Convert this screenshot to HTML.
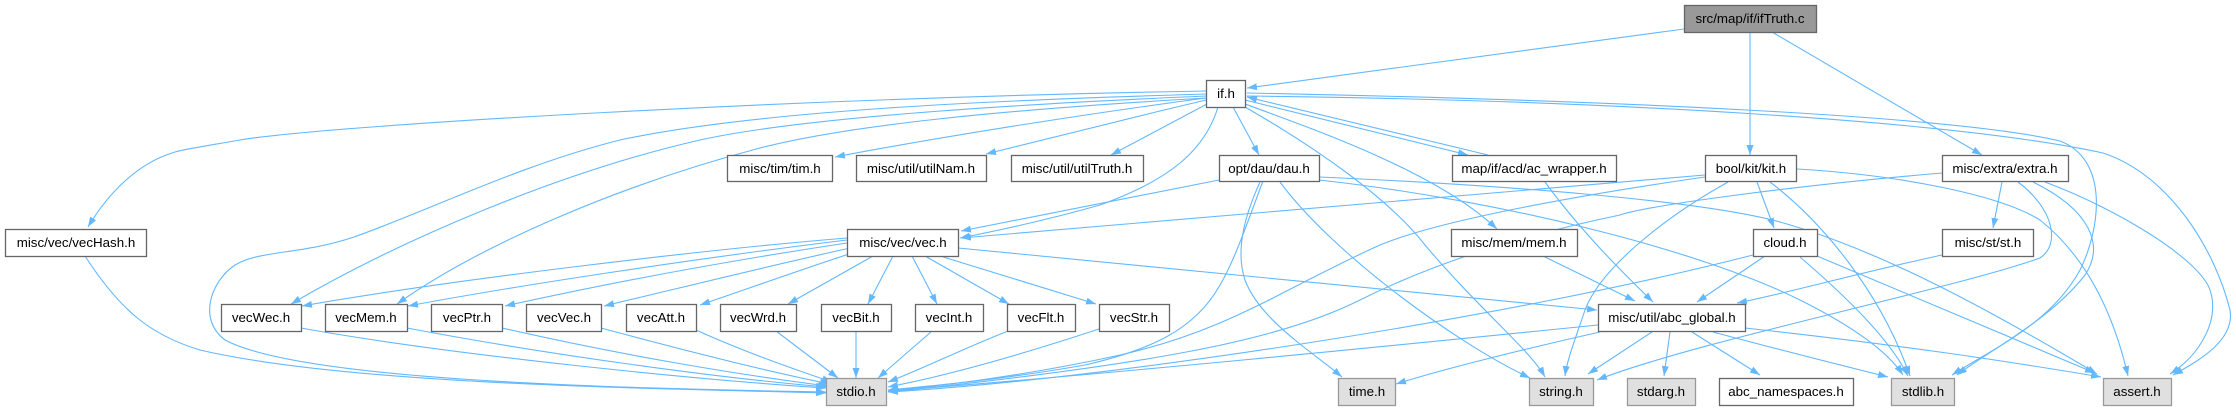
<!DOCTYPE html>
<html><head><meta charset="utf-8"><style>
html,body{margin:0;padding:0;background:#fff;}
svg{display:block}
text{font-family:"Liberation Sans",Arial,sans-serif;font-size:13.33px;fill:#000;text-anchor:middle}
.e{fill:none;stroke:#63b8ff;stroke-width:1.1}
.n{fill:#fff;stroke:#666;stroke-width:1.3}
.s{fill:#e0e0e0;stroke:#999;stroke-width:1.3}
.r{fill:#999;stroke:#666;stroke-width:1.3}
</style></head><body>
<svg width="2236" height="411" viewBox="0 0 2236 411" xmlns="http://www.w3.org/2000/svg">
<defs>
<marker id="a" markerUnits="userSpaceOnUse" markerWidth="11" markerHeight="8" refX="10" refY="3.5" orient="auto">
<path d="M0,0 L10,3.5 L0,7 z" fill="#63b8ff"/>
</marker>
</defs>
<g class="edges" marker-end="url(#a)">
<!-- ifTruth -->
<path class="e" marker-end="url(#a)" d="M1684,29 L1247,88"/>
<path class="e" marker-end="url(#a)" d="M1750,32 L1750,155"/>
<path class="e" marker-end="url(#a)" d="M1772,32 L1982,155"/>
<!-- if.h -->
<path class="e" marker-end="url(#a)" d="M1206,91 C800,98 330,125 240,140 C200,147 180,150 172,153 C140,163 110,190 88,227"/>
<path class="e" marker-end="url(#a)" d="M1206,94 C1000,100 760,110 620,140 C520,165 430,210 354,237 C300,255 260,250 235,265 C210,282 198,320 225,340 C300,380 600,388 826,392"/>
<path class="e" marker-end="url(#a)" d="M1206,96 C1000,105 800,118 700,140 C560,172 400,240 291,304"/>
<path class="e" marker-end="url(#a)" d="M1206,98 C1000,110 850,125 760,148 C620,185 480,245 397,304"/>
<path class="e" marker-end="url(#a)" d="M1206,98 C1100,112 950,135 835,157"/>
<path class="e" marker-end="url(#a)" d="M1206,100 C1130,118 1050,138 986,154"/>
<path class="e" marker-end="url(#a)" d="M1207,104 L1111,155"/>
<path class="e" marker-end="url(#a)" d="M1233,107 L1259,155"/>
<path class="e" marker-end="url(#a)" d="M1218,107 C1205,150 1170,180 1100,205 C1040,222 990,232 960,238"/>
<path class="e" marker-end="url(#a)" d="M1245,104 C1330,135 1440,175 1497,229"/>
<path class="e" marker-end="url(#a)" d="M1245,100 L1468,155"/>
<path class="e" marker-end="url(#a)" d="M1488,155 L1247,97"/>
<path class="e" marker-end="url(#a)" d="M1245,107 C1320,150 1390,200 1425,245 C1480,310 1530,350 1545,377"/>
<path class="e" marker-end="url(#a)" d="M1247,93 C1600,100 1950,115 2060,141 C2110,160 2100,230 2080,270 C2050,325 1990,350 1952,375"/>
<path class="e" marker-end="url(#a)" d="M1247,96 C1600,100 1950,120 2103,153 C2170,175 2215,250 2230,310 C2235,340 2200,360 2173,375"/>
<!-- dau.h -->
<path class="e" marker-end="url(#a)" d="M1219,180 L961,231"/>
<path class="e" marker-end="url(#a)" d="M1263,181 C1250,215 1235,260 1220,285 C1195,330 1150,350 1085,365 C1000,380 930,386 888,390"/>
<path class="e" marker-end="url(#a)" d="M1260,182 C1245,215 1235,250 1245,280 C1260,320 1310,350 1342,377"/>
<path class="e" marker-end="url(#a)" d="M1280,182 C1330,250 1450,340 1530,378"/>
<path class="e" marker-end="url(#a)" d="M1319,177 C1500,185 1700,200 1780,222 C1880,250 1990,310 2097,374"/>
<path class="e" marker-end="url(#a)" d="M1319,180 C1500,200 1700,250 1800,300 C1860,330 1890,355 1903,375"/>
<!-- kit.h -->
<path class="e" marker-end="url(#a)" d="M1705,175 L961,238"/>
<path class="e" marker-end="url(#a)" d="M1705,177 C1580,195 1440,220 1380,245 C1280,290 1230,330 1120,355 C1030,375 940,386 888,391"/>
<path class="e" marker-end="url(#a)" d="M1728,182 C1660,220 1600,270 1585,310 C1575,340 1567,360 1565,376"/>
<path class="e" marker-end="url(#a)" d="M1757,182 L1774,228"/>
<path class="e" marker-end="url(#a)" d="M1770,182 C1820,220 1880,290 1910,376"/>
<path class="e" marker-end="url(#a)" d="M1797,169 C1900,175 2000,195 2040,220 C2090,260 2115,320 2128,376"/>
<!-- extra.h -->
<path class="e" marker-end="url(#a)" d="M1942,173 C1800,185 1650,205 1620,215 C1500,240 1420,270 1360,300 C1280,340 1150,365 888,392"/>
<path class="e" marker-end="url(#a)" d="M2002,182 L1993,228"/>
<path class="e" marker-end="url(#a)" d="M2018,182 C2055,210 2060,245 2040,258 C1950,290 1700,340 1597,380"/>
<path class="e" marker-end="url(#a)" d="M2033,182 C2090,210 2105,245 2085,275 C2050,320 1990,350 1957,375"/>
<path class="e" marker-end="url(#a)" d="M2045,182 C2120,210 2200,260 2210,290 C2220,320 2200,355 2170,374"/>
<!-- cloud / st / mem / ac_wrapper -->
<path class="e" marker-end="url(#a)" d="M1765,256 L1697,302"/>
<path class="e" marker-end="url(#a)" d="M1753,255 C1500,320 1100,380 888,392"/>
<path class="e" marker-end="url(#a)" d="M1800,257 C1850,300 1890,340 1908,376"/>
<path class="e" marker-end="url(#a)" d="M1817,256 L2095,373"/>
<path class="e" marker-end="url(#a)" d="M1942,255 C1850,275 1780,295 1737,303"/>
<path class="e" marker-end="url(#a)" d="M1543,256 L1635,301"/>
<path class="e" marker-end="url(#a)" d="M1545,182 C1580,230 1620,270 1653,302"/>
<!-- vec.h -->
<path class="e" marker-end="url(#a)" d="M958,248 L1597,310"/>
<path class="e" marker-end="url(#a)" d="M847,238 C700,250 450,280 302,306"/>
<path class="e" marker-end="url(#a)" d="M847,240 C700,258 520,285 408,306"/>
<path class="e" marker-end="url(#a)" d="M847,243 C720,262 600,285 505,306"/>
<path class="e" marker-end="url(#a)" d="M850,248 C760,268 680,288 604,306"/>
<path class="e" marker-end="url(#a)" d="M855,252 C800,270 750,288 700,305"/>
<path class="e" marker-end="url(#a)" d="M873,256 L788,304"/>
<path class="e" marker-end="url(#a)" d="M893,256 L868,304"/>
<path class="e" marker-end="url(#a)" d="M912,256 L937,304"/>
<path class="e" marker-end="url(#a)" d="M925,256 L1009,304"/>
<path class="e" marker-end="url(#a)" d="M940,256 L1096,304"/>
<!-- vecX -> stdio -->
<path class="e" marker-end="url(#a)" d="M85,256 C120,310 150,335 200,350 C350,385 650,388 826,393"/>
<path class="e" marker-end="url(#a)" d="M301,328 C450,355 700,380 826,388"/>
<path class="e" marker-end="url(#a)" d="M407,328 C550,355 720,378 826,387"/>
<path class="e" marker-end="url(#a)" d="M502,328 C620,355 740,375 828,386"/>
<path class="e" marker-end="url(#a)" d="M601,328 C690,352 770,372 830,384"/>
<path class="e" marker-end="url(#a)" d="M696,330 C740,350 790,368 832,382"/>
<path class="e" marker-end="url(#a)" d="M776,331 L838,378"/>
<path class="e" marker-end="url(#a)" d="M856,331 L856,378"/>
<path class="e" marker-end="url(#a)" d="M932,331 L878,378"/>
<path class="e" marker-end="url(#a)" d="M1008,331 C960,350 920,370 888,382"/>
<path class="e" marker-end="url(#a)" d="M1099,329 C1020,355 950,375 888,387"/>
<!-- abc_global -->
<path class="e" marker-end="url(#a)" d="M1598,325 C1400,345 1100,375 888,391"/>
<path class="e" marker-end="url(#a)" d="M1600,332 C1520,350 1440,370 1396,384"/>
<path class="e" marker-end="url(#a)" d="M1652,332 L1588,374"/>
<path class="e" marker-end="url(#a)" d="M1670,332 L1664,376"/>
<path class="e" marker-end="url(#a)" d="M1692,332 L1760,375"/>
<path class="e" marker-end="url(#a)" d="M1713,332 C1780,350 1840,365 1888,377"/>
<path class="e" marker-end="url(#a)" d="M1745,328 C1900,345 2000,360 2101,377"/>
</g>

<!-- nodes -->
<rect class="r" x="1684.5" y="5.5" width="132" height="27"/><text x="1750" y="23">src/map/if/ifTruth.c</text>
<rect class="n" x="1206.5" y="80.5" width="39" height="27"/><text x="1226" y="98">if.h</text>

<rect class="n" x="727.5" y="155.5" width="105" height="26"/><text x="780" y="173">misc/tim/tim.h</text>
<rect class="n" x="856.5" y="155.5" width="130" height="26"/><text x="921" y="173">misc/util/utilNam.h</text>
<rect class="n" x="1011.5" y="155.5" width="132" height="26"/><text x="1077" y="173">misc/util/utilTruth.h</text>
<rect class="n" x="1219.5" y="155.5" width="100" height="26"/><text x="1269" y="173">opt/dau/dau.h</text>
<rect class="n" x="1452.5" y="155.5" width="164" height="26"/><text x="1534" y="173">map/if/acd/ac_wrapper.h</text>
<rect class="n" x="1705.5" y="155.5" width="91" height="26"/><text x="1751" y="173">bool/kit/kit.h</text>
<rect class="n" x="1942.5" y="155.5" width="126" height="26"/><text x="2005" y="173">misc/extra/extra.h</text>

<rect class="n" x="5.5" y="229.5" width="141" height="27"/><text x="76" y="247">misc/vec/vecHash.h</text>
<rect class="n" x="847.5" y="229.5" width="111" height="27"/><text x="903" y="247">misc/vec/vec.h</text>
<rect class="n" x="1451.5" y="229.5" width="126" height="27"/><text x="1514" y="247">misc/mem/mem.h</text>
<rect class="n" x="1753.5" y="229.5" width="64" height="27"/><text x="1785" y="247">cloud.h</text>
<rect class="n" x="1942.5" y="229.5" width="91" height="27"/><text x="1988" y="247">misc/st/st.h</text>

<rect class="n" x="221.5" y="304.5" width="80" height="27"/><text x="261" y="322">vecWec.h</text>
<rect class="n" x="325.5" y="304.5" width="82" height="27"/><text x="366" y="322">vecMem.h</text>
<rect class="n" x="431.5" y="304.5" width="71" height="27"/><text x="467" y="322">vecPtr.h</text>
<rect class="n" x="526.5" y="304.5" width="75" height="27"/><text x="564" y="322">vecVec.h</text>
<rect class="n" x="626.5" y="304.5" width="70" height="27"/><text x="661" y="322">vecAtt.h</text>
<rect class="n" x="720.5" y="304.5" width="76" height="27"/><text x="758" y="322">vecWrd.h</text>
<rect class="n" x="821.5" y="304.5" width="70" height="27"/><text x="856" y="322">vecBit.h</text>
<rect class="n" x="915.5" y="304.5" width="68" height="27"/><text x="949" y="322">vecInt.h</text>
<rect class="n" x="1007.5" y="304.5" width="68" height="27"/><text x="1041" y="322">vecFlt.h</text>
<rect class="n" x="1099.5" y="304.5" width="70" height="27"/><text x="1134" y="322">vecStr.h</text>
<rect class="n" x="1598.5" y="304.5" width="147" height="27"/><text x="1672" y="322">misc/util/abc_global.h</text>

<rect class="s" x="826.5" y="378.5" width="60" height="27"/><text x="856" y="396">stdio.h</text>
<rect class="s" x="1338.5" y="378.5" width="57" height="27"/><text x="1367" y="396">time.h</text>
<rect class="s" x="1529.5" y="378.5" width="64" height="27"/><text x="1561" y="396">string.h</text>
<rect class="s" x="1627.5" y="378.5" width="68" height="27"/><text x="1661" y="396">stdarg.h</text>
<rect class="n" x="1719.5" y="378.5" width="134" height="27"/><text x="1786" y="396">abc_namespaces.h</text>
<rect class="s" x="1891.5" y="378.5" width="63" height="27"/><text x="1923" y="396">stdlib.h</text>
<rect class="s" x="2103.5" y="378.5" width="68" height="27"/><text x="2137" y="396">assert.h</text>
</svg>
</body></html>
